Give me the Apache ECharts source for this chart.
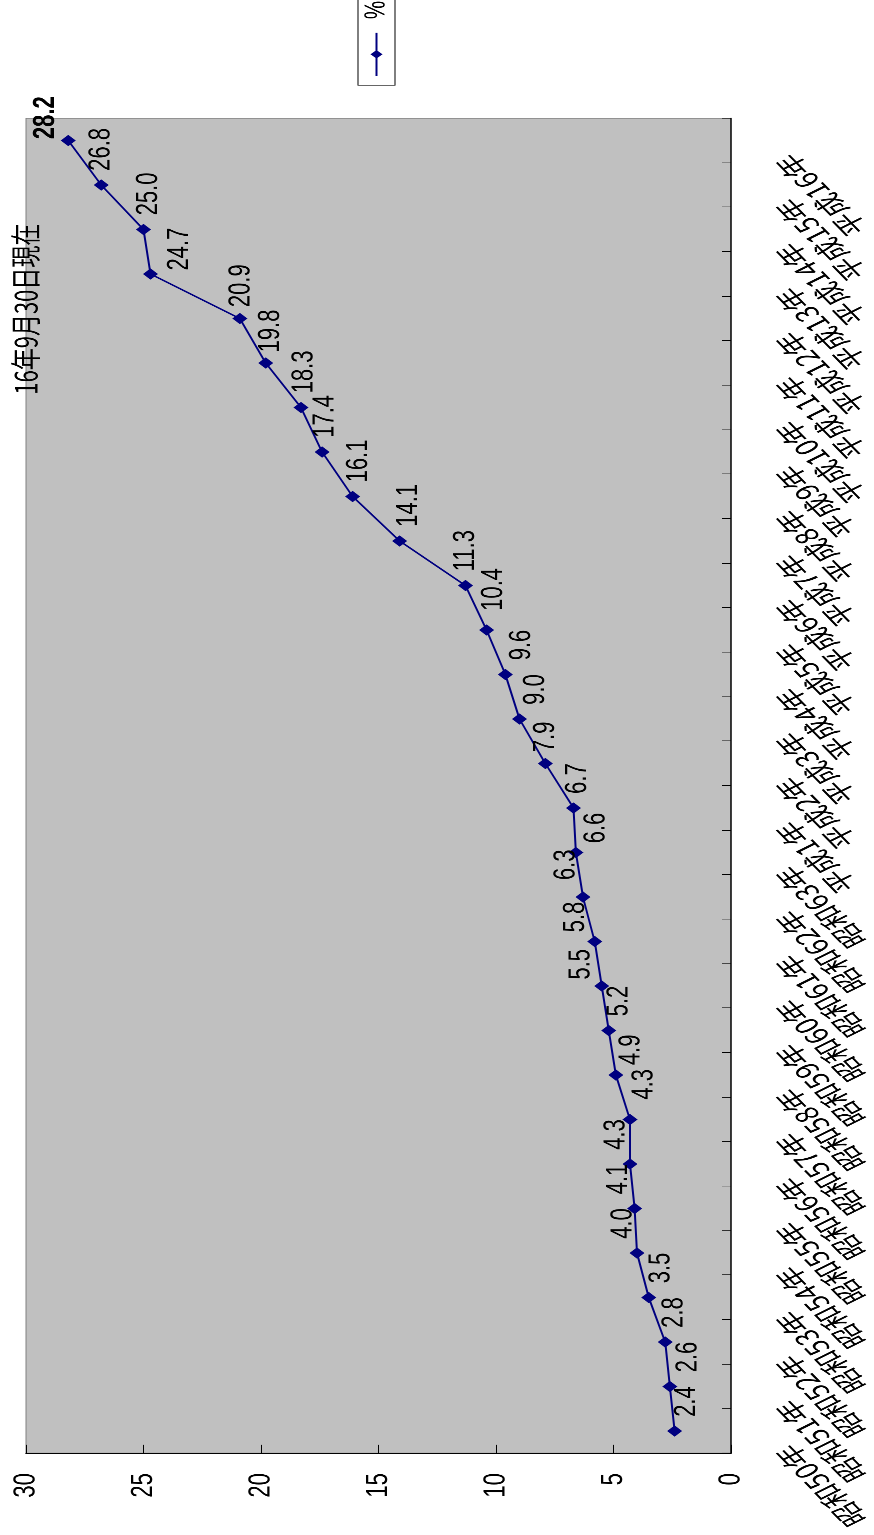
<!DOCTYPE html>
<html>
<head>
<meta charset="utf-8">
<script src="https://cdn.jsdelivr.net/npm/echarts@6/dist/echarts.min.js"></script>
<style>
html,body{margin:0;padding:0;background:#fff;overflow:hidden;width:874px;height:1535px;}
#chart{position:absolute;left:0;top:0;width:2162px;height:874px;transform-origin:0 0;
transform:translate(0px,1535px) rotate(-90deg) scale(0.71,1);}
</style>
</head>
<body>
<div id="chart"></div>
<script>
const categories = ['昭和50年','昭和51年','昭和52年','昭和53年','昭和54年','昭和55年','昭和56年','昭和57年','昭和58年','昭和59年','昭和60年','昭和61年','昭和62年','昭和63年',
  '平成1年','平成2年','平成3年','平成4年','平成5年','平成6年','平成7年','平成8年','平成9年','平成10年','平成11年','平成12年','平成13年','平成14年','平成15年','平成16年'];
const values = [2.4,2.6,2.8,3.5,4.0,4.1,4.3,4.3,4.9,5.2,5.5,5.8,6.3,6.6,6.7,7.9,9.0,9.6,10.4,11.3,14.1,16.1,17.4,18.3,19.8,20.9,24.7,25.0,26.8,28.2];
const seriesName = '%';
const noteText = '16年9月30日現在';
// label nudges (placement of value labels relative to their point)
const labelNudgeX = [0,0,0,0,0,0,0,8,-6,0,-11,-7,4,-7,0,-4,0,0,7,0,0,0,0,0,-5,-4,-15,0,0,-18];
const labelNudgeY = [12,18,9,12,-14,-16,-14,14,15,10,-21,-19,-17,20,4,0,16,16,7,0,9,6,3,3,5,1,29,5,0,-23];

const chart = echarts.init(document.getElementById('chart'), null, {renderer:'canvas', devicePixelRatio:2});
const last = values.length - 1;
const seriesData = values.map((v, i) => ({
  value: v,
  label: {offset: [labelNudgeX[i], labelNudgeY[i]], fontWeight: i === last ? 'bold' : 'normal'}
}));

chart.setOption({
  backgroundColor: '#ffffff',
  animation: false,
  title: {
    text: noteText, left: 1606, top: 10, padding: 0,
    textStyle: {fontFamily: 'Noto Sans CJK JP', fontSize: 31, fontWeight: 'normal', color: '#000'}
  },
  legend: {
    data: [seriesName], left: 2042, top: 358, orient: 'horizontal',
    padding: [4, 10, 4, 12], borderColor: '#000', borderWidth: 1, backgroundColor: '#fff',
    itemWidth: 61, itemHeight: 15,
    textStyle: {fontFamily: 'Liberation Sans', fontSize: 29, color: '#000', padding: [0,0,0,14]}
  },
  grid: {
    left: 115.1, top: 26, width: 1880.3, height: 705,
    show: true, backgroundColor: '#c0c0c0', borderColor: '#808080', borderWidth: 1
  },
  xAxis: {
    type: 'category', data: categories, boundaryGap: true,
    axisLine: {show: true, lineStyle: {color: '#000', width: 1.5}},
    axisTick: {show: true, inside: true, length: 9, lineStyle: {color: '#000'}},
    axisLabel: {rotate: 35, margin: 36, padding: [0, 28, 0, 0], fontFamily: 'Noto Sans CJK JP', fontSize: 32, color: '#000', interval: 0},
    splitLine: {show: false}
  },
  yAxis: {
    type: 'value', min: 0, max: 30, interval: 5,
    axisLine: {show: true, lineStyle: {color: '#000', width: 1.5}},
    axisTick: {show: true, inside: true, length: 12, lineStyle: {color: '#000'}},
    axisLabel: {margin: 28, fontFamily: 'Liberation Sans', fontSize: 31, color: '#000'},
    splitLine: {show: false}
  },
  series: [{
    name: seriesName, type: 'line', data: seriesData,
    symbol: 'diamond', symbolSize: [16, 15],
    lineStyle: {color: '#000080', width: 2}, itemStyle: {color: '#000080'},
    label: {show: true, position: 'right', distance: 12, fontFamily: 'Liberation Sans', fontSize: 31, color: '#000',
      formatter: p => p.value.toFixed(1)}
  }]
});
</script>
</body>
</html>
